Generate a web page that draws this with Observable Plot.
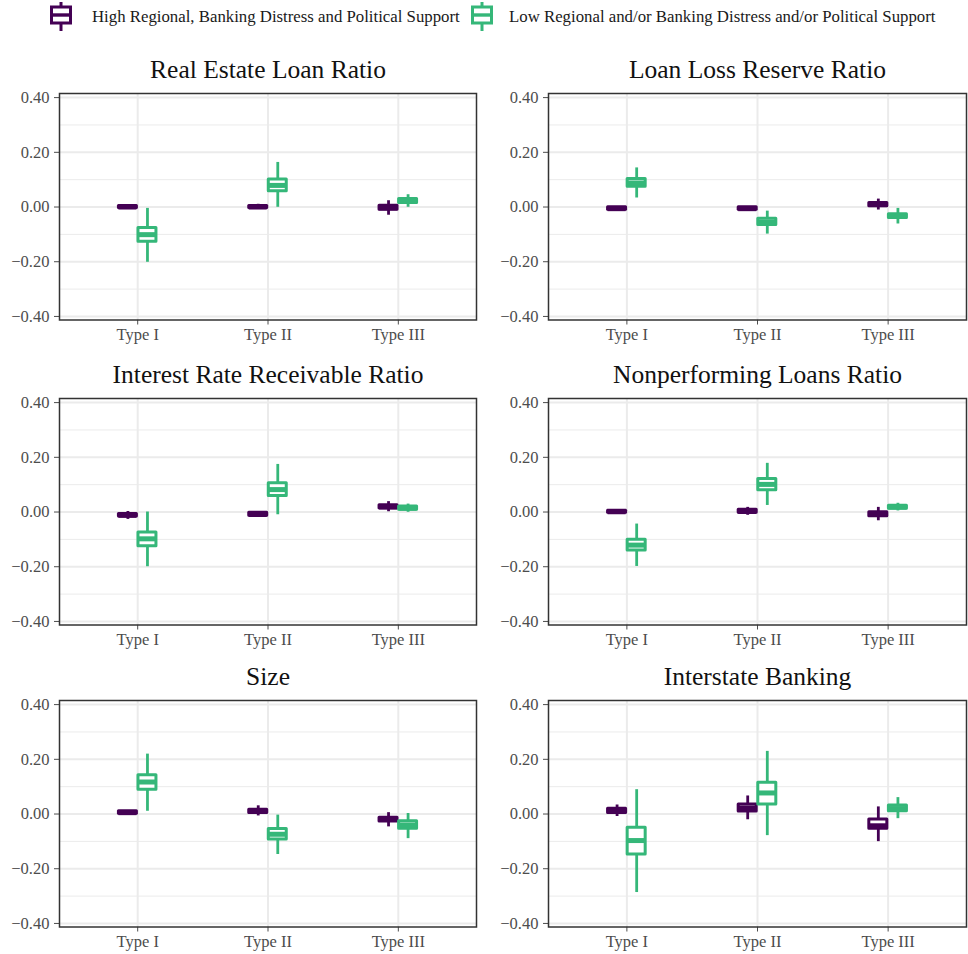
<!DOCTYPE html>
<html>
<head>
<meta charset="utf-8">
<script src="https://cdn.jsdelivr.net/npm/d3@7"></script>
<script src="https://cdn.jsdelivr.net/npm/@observablehq/plot@0.6"></script>
<style>
  html, body { margin: 0; padding: 0; background: #fff; }
  #root { position: relative; width: 968px; height: 954px; overflow: hidden; font-family: "Liberation Serif", serif; }
  .panel { position: absolute; }
  .legend-item { position: absolute; top: 0; height: 32px; display: flex; align-items: center; font-size: 16.8px; color: #1a1a1a; white-space: nowrap; }
</style>
</head>
<body>
<div id="root"></div>
<script>
// ---- data (min, q1, median, q3, max), rows ordered:
// Type I high, Type I low, Type II high, Type II low, Type III high, Type III low
const types = ["Type I", "Type II", "Type III"];
const groups = [
  "High Regional, Banking Distress and Political Support",
  "Low Regional and/or Banking Distress and/or Political Support"
];
const panelTitles = [
  "Real Estate Loan Ratio", "Loan Loss Reserve Ratio",
  "Interest Rate Receivable Ratio", "Nonperforming Loans Ratio",
  "Size", "Interstate Banking"
];
const realEstate = [
  [-0.006, -0.004, 0.000, 0.004, 0.006],
  [-0.202, -0.127, -0.101, -0.077, -0.005],
  [-0.008, -0.004, 0.000, 0.004, 0.010],
  [-0.001, 0.058, 0.079, 0.101, 0.163],
  [-0.030, -0.010, -0.003, 0.005, 0.023],
  [-0.001, 0.015, 0.022, 0.029, 0.045]
];
const loanLoss = [
  [-0.012, -0.010, -0.006, -0.001, 0.001],
  [0.033, 0.074, 0.088, 0.102, 0.143],
  [-0.012, -0.010, -0.006, -0.001, 0.001],
  [-0.099, -0.066, -0.055, -0.043, -0.015],
  [-0.011, 0.003, 0.009, 0.015, 0.029],
  [-0.062, -0.040, -0.033, -0.026, -0.005]
];
const interestRate = [
  [-0.027, -0.016, -0.012, -0.007, 0.002],
  [-0.200, -0.125, -0.098, -0.075, 0.000],
  [-0.016, -0.014, -0.009, -0.003, -0.001],
  [-0.010, 0.059, 0.082, 0.105, 0.174],
  [0.001, 0.013, 0.019, 0.025, 0.038],
  [-0.001, 0.008, 0.014, 0.020, 0.029]
];
const nonperforming = [
  [-0.004, -0.003, 0.001, 0.005, 0.006],
  [-0.199, -0.141, -0.121, -0.101, -0.044],
  [-0.012, -0.003, 0.002, 0.008, 0.017],
  [0.024, 0.080, 0.101, 0.121, 0.178],
  [-0.032, -0.015, -0.008, -0.001, 0.017],
  [0.004, 0.012, 0.018, 0.023, 0.032]
];
const sizeStats = [
  [0.000, 0.001, 0.005, 0.010, 0.011],
  [0.010, 0.089, 0.117, 0.142, 0.219],
  [-0.007, 0.004, 0.010, 0.016, 0.030],
  [-0.148, -0.093, -0.074, -0.055, -0.004],
  [-0.047, -0.027, -0.020, -0.014, 0.005],
  [-0.090, -0.054, -0.040, -0.026, 0.002]
];
const interstate = [
  [-0.009, 0.004, 0.012, 0.019, 0.033],
  [-0.287, -0.148, -0.097, -0.050, 0.089],
  [-0.021, 0.009, 0.022, 0.035, 0.066],
  [-0.079, 0.035, 0.077, 0.114, 0.229],
  [-0.101, -0.054, -0.043, -0.020, 0.026],
  [-0.017, 0.010, 0.020, 0.031, 0.060]
];
const yTicks = [-0.4, -0.2, 0, 0.2, 0.4];
const yMinor = [-0.3, -0.1, 0.1, 0.3];

// ---- styling
const colors = ["#440154", "#35B779"];
const dodge = 0.075, half = 0.069;
const panelStats = [realEstate, loanLoss, interestRate, nonperforming, sizeStats, interstate];

function rowsOf(stats) {
  return stats.map((s, i) => ({
    type: types[Math.floor(i / 2)],
    ti: Math.floor(i / 2) + 1,
    g: i % 2,
    min: s[0], q1: s[1], med: s[2], q3: s[3], max: s[4]
  }));
}

const root = document.getElementById("root");

// legend
const legendPos = [{cx: 61, tx: 92}, {cx: 482, tx: 509}];
groups.forEach((label, i) => {
  const item = document.createElement("div");
  item.className = "legend-item";
  item.style.left = legendPos[i].tx + "px";
  item.style.top = "1px";
  item.textContent = label;
  root.appendChild(item);
  const ns = "http://www.w3.org/2000/svg";
  const svg = document.createElementNS(ns, "svg");
  svg.setAttribute("width", 30); svg.setAttribute("height", 34);
  svg.style.position = "absolute";
  svg.style.left = (legendPos[i].cx - 15) + "px";
  svg.style.top = "0px";
  const c = colors[i];
  svg.innerHTML =
    `<line x1="15" x2="15" y1="2" y2="31" stroke="${c}" stroke-width="3"/>` +
    `<rect x="5.5" y="7" width="19" height="16" fill="white" stroke="${c}" stroke-width="3"/>` +
    `<line x1="5.5" x2="24.5" y1="15" y2="15" stroke="${c}" stroke-width="3.4"/>`;
  root.appendChild(svg);
});

const frameTops = [92.7, 397.7, 700];
const frameH = 226.5;
const mTop = 40, mBottom = 32;

panelStats.forEach((stats, p) => {
  const col = p % 2, row = Math.floor(p / 2);
  const data = rowsOf(stats);
  const left = col === 0 ? 0 : 484;
  const marginLeft = col === 0 ? 59 : 64;
  const marginRight = col === 0 ? 8 : 2;
  const marks = [
    Plot.ruleY(yMinor, {stroke: "#ebebeb", strokeWidth: 1}),
    Plot.ruleY(yTicks, {stroke: "#ebebeb", strokeWidth: 2}),
    Plot.ruleX([1, 2, 3], {stroke: "#ebebeb", strokeWidth: 2}),
  ];
  [0, 1].forEach(g => {
    const d = data.filter(r => r.g === g);
    const off = g === 0 ? -dodge : dodge;
    marks.push(
      Plot.ruleX(d, {x: r => r.ti + off, y1: "min", y2: "max", stroke: colors[g], strokeWidth: 2.8}),
      Plot.rect(d, {x1: r => r.ti + off - half, x2: r => r.ti + off + half, y1: "q1", y2: "q3",
        fill: "white", stroke: colors[g], strokeWidth: 3, strokeLinejoin: "round"}),
      Plot.ruleY(d, {x1: r => r.ti + off - half, x2: r => r.ti + off + half, y: "med",
        stroke: colors[g], strokeWidth: 5})
    );
  });
  marks.push(
    Plot.frame({stroke: "#333333", strokeWidth: 1.5}),
    Plot.text([panelTitles[p]], {frameAnchor: "top", dy: -24, lineAnchor: "middle",
      fontSize: 25.5, fill: "#111", text: d => d})
  );
  const chart = Plot.plot({
    width: 484,
    height: mTop + frameH + mBottom,
    marginLeft, marginRight, marginTop: mTop, marginBottom: mBottom,
    style: {fontFamily: "'Liberation Serif', serif", fontSize: "16.5px", color: "#4d4d4d", background: "transparent", overflow: "visible"},
    x: {domain: [0.4, 3.6], ticks: [1, 2, 3], tickFormat: i => types[i - 1], tickSize: 5, tickPadding: 3, label: null},
    y: {domain: [-0.413, 0.415], ticks: yTicks, tickFormat: d3.format(".2f"), tickSize: 5, tickPadding: 5, label: null},
    marks
  });
  const wrap = document.createElement("div");
  wrap.className = "panel";
  wrap.style.left = left + "px";
  wrap.style.top = (frameTops[row] - mTop) + "px";
  wrap.appendChild(chart);
  root.appendChild(wrap);
});
</script>
</body>
</html>
